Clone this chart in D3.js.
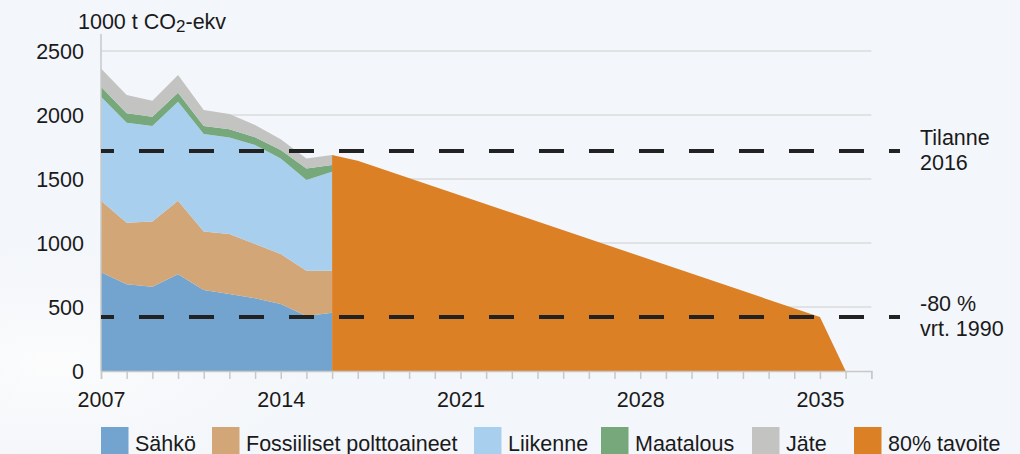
<!DOCTYPE html>
<html>
<head>
<meta charset="utf-8">
<script src="https://cdn.jsdelivr.net/npm/d3@7"></script>
<style>
  html, body { margin: 0; padding: 0; background: #f3f6fa; }
  svg { display: block; font-family: "Liberation Sans", Arial, sans-serif; }
</style>
</head>
<body>
<svg id="chart" width="1020" height="454"></svg>
<script>
// ---- data ----
const years = [2007, 2008, 2009, 2010, 2011, 2012, 2013, 2014, 2015, 2016];
const sahko = [771, 677, 659, 755, 633, 602, 568, 523, 430, 456];
const fossiiliset = [560, 482, 508, 576, 456, 468, 424, 391, 354, 328];
const liikenne = [812, 781, 747, 773, 763, 754, 774, 746, 708, 773];
const maatalous = [78, 73, 73, 70, 62, 64, 60, 67, 91, 52];
const jate = [143, 143, 125, 139, 125, 120, 96, 83, 77, 79];
const tavoiteYears = [2016, 2017, 2035, 2036];
const tavoite = [1688, 1643, 422, 0];
const refLevels = [1719, 422];
const refLabels = [["Tilanne", "2016"], ["-80 %", "vrt. 1990"]];
const seriesNames = ["Sähkö", "Fossiiliset polttoaineet", "Liikenne", "Maatalous", "Jäte"];
const legendNames = ["Sähkö", "Fossiiliset polttoaineet", "Liikenne", "Maatalous", "Jäte", "80% tavoite"];
const yTicks = [0, 500, 1000, 1500, 2000, 2500];
const xLabelTicks = [2007, 2014, 2021, 2028, 2035];
const colors = ["#72a4cf", "#d2a677", "#a9cfee", "#76a87b", "#c3c3c1", "#dc8026"];

// ---- layout ----
const svg = d3.select("#chart");
const W = 1020, H = 454;
const x = d3.scaleLinear().domain([2007, 2037]).range([101, 871.3]);
const y = d3.scaleLinear().domain([0, 2500]).range([371, 51]);

// background
const defs = svg.append("defs");
const rg = defs.append("radialGradient").attr("id", "cloud")
  .attr("cx", "0.05").attr("cy", "0.8").attr("r", "0.35");
rg.append("stop").attr("offset", "0").attr("stop-color", "#fdfdfd").attr("stop-opacity", 0.9);
rg.append("stop").attr("offset", "1").attr("stop-color", "#f3f6fa").attr("stop-opacity", 0);
svg.append("rect").attr("width", W).attr("height", H).attr("fill", "#f3f6fa");
svg.append("rect").attr("width", W).attr("height", H).attr("fill", "url(#cloud)");

// grid lines
svg.append("g").selectAll("line").data(yTicks.filter(d => d > 0)).join("line")
  .attr("x1", x(2007)).attr("x2", x(2037))
  .attr("y1", d => y(d)).attr("y2", d => y(d))
  .attr("stroke", "#cdcdcd").attr("stroke-width", 1.2);

// stacked data
const table = years.map((yr, i) => ({
  year: yr,
  "Sähkö": sahko[i],
  "Fossiiliset polttoaineet": fossiiliset[i],
  "Liikenne": liikenne[i],
  "Maatalous": maatalous[i],
  "Jäte": jate[i]
}));
const stack = d3.stack().keys(seriesNames)(table);
const area = d3.area()
  .x(d => x(d.data.year))
  .y0(d => y(d[0]))
  .y1(d => y(d[1]));
svg.append("g").selectAll("path").data(stack).join("path")
  .attr("d", area)
  .attr("fill", (d, i) => colors[i]);

// target area
const tData = tavoiteYears.map((yr, i) => ({ year: yr, v: tavoite[i] }));
svg.append("path").datum(tData)
  .attr("d", d3.area().x(d => x(d.year)).y0(y(0)).y1(d => y(d.v)))
  .attr("fill", colors[5]);

// axes
const xAxis = d3.axisBottom(x)
  .tickValues(d3.range(2007, 2038))
  .tickSize(8)
  .tickFormat(d => xLabelTicks.includes(d) ? String(d) : "");
const gx = svg.append("g").attr("transform", `translate(0,${y(0)})`).call(xAxis);
gx.select(".domain").attr("stroke", "#c8c8c8").attr("stroke-width", 1.5);
gx.selectAll(".tick line").attr("stroke", "#c8c8c8").attr("stroke-width", 1.5);
gx.selectAll(".tick text").attr("y", 36).attr("dy", 0)
  .attr("font-size", 21.5).attr("fill", "#1a1a1a").attr("font-family", "Liberation Sans, Arial, sans-serif");

const yAxis = d3.axisLeft(y).tickValues(yTicks).tickSize(0).tickPadding(17).tickFormat(d3.format("d"));
const gy = svg.append("g").attr("transform", `translate(${x(2007)},0)`).call(yAxis);
gy.select(".domain").remove();
gy.selectAll(".tick text").attr("font-size", 21.5).attr("fill", "#1a1a1a")
  .attr("dy", "0.36em").attr("font-family", "Liberation Sans, Arial, sans-serif");
svg.append("line").attr("x1", x(2007)).attr("x2", x(2007))
  .attr("y1", 34).attr("y2", y(0))
  .attr("stroke", "#c8c8c8").attr("stroke-width", 1.5);

// reference dashed lines
svg.append("g").selectAll("line").data(refLevels).join("line")
  .attr("x1", x(2007)).attr("x2", 900)
  .attr("y1", d => y(d)).attr("y2", d => y(d))
  .attr("stroke", "#222222").attr("stroke-width", 4)
  .attr("stroke-dasharray", "25,25").attr("stroke-dashoffset", 12);

// reference labels
const rl = svg.append("g").selectAll("text").data(refLevels).join("text")
  .attr("x", 920).attr("y", d => y(d) - 6)
  .attr("font-size", 21.5).attr("fill", "#1a1a1a");
rl.each(function(d, i) {
  const t = d3.select(this);
  t.append("tspan").attr("x", 920).text(refLabels[i][0]);
  t.append("tspan").attr("x", 920).attr("dy", 25).text(refLabels[i][1]);
});

// unit title
const title = svg.append("text").attr("x", 78).attr("y", 29)
  .attr("font-size", 21.5).attr("fill", "#1a1a1a");
title.append("tspan").text("1000 t CO");
title.append("tspan").attr("font-size", 17).attr("dy", 3).text("2");
title.append("tspan").attr("dy", -3).text("-ekv");

// legend
const legendX = [101, 212, 474, 601, 752, 854];
const lg = svg.append("g").selectAll("g").data(legendNames).join("g")
  .attr("transform", (d, i) => `translate(${legendX[i]},427)`);
lg.append("rect").attr("width", 27.5).attr("height", 30).attr("fill", (d, i) => colors[i]);
lg.append("text").attr("x", 34).attr("y", 23.5).attr("font-size", 21.5)
  .attr("fill", "#1a1a1a").text(d => d);
</script>
</body>
</html>
